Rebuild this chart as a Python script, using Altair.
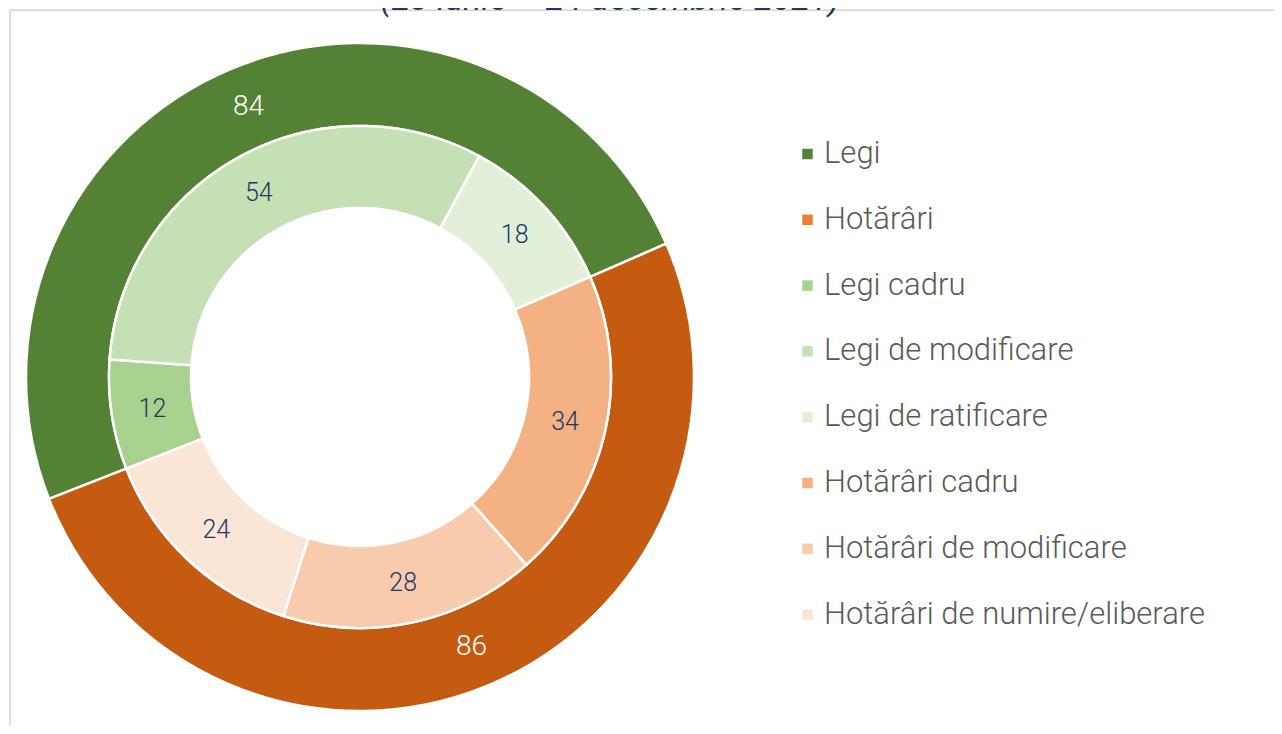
import altair as alt
import pandas as pd
import math

# ---- data ----
outer_cats = ["Legi", "Hotărâri"]
outer_vals = [84, 86]
outer_cols = ["#548235", "#C55A11"]

inner_cats = ["Legi cadru", "Legi de modificare", "Legi de ratificare",
              "Hotărâri cadru", "Hotărâri de modificare", "Hotărâri de numire/eliberare"]
inner_vals = [12, 54, 18, 34, 28, 24]

legend_cats = ["Legi", "Hotărâri", "Legi cadru", "Legi de modificare", "Legi de ratificare",
               "Hotărâri cadru", "Hotărâri de modificare", "Hotărâri de numire/eliberare"]
legend_cols = ["#548235", "#ED7D31", "#A9D18E", "#C5E0B4", "#E2F0D9",
               "#F4B183", "#F8CBAD", "#FBE5D6"]

title_text = "(28 iunie – 24 decembrie 2021)"

outer_df = pd.DataFrame({"cat": outer_cats, "val": outer_vals, "fill": outer_cols,
                         "ord": list(range(len(outer_cats)))})
inner_df = pd.DataFrame({"cat": inner_cats, "val": inner_vals,
                         "ord": list(range(len(inner_cats)))})

START = math.radians(248.6)
theta_scale = alt.Scale(domain=[0, 170], range=[START, START + 2 * math.pi])

CX, CY = 350, 367
FONT = "Roboto"

outer_arc = alt.Chart(outer_df).mark_arc(radius=334, radius2=251, stroke="white", strokeWidth=2.5).encode(
    theta=alt.Theta("val:Q", stack=True, scale=theta_scale),
    order=alt.Order("ord:Q"),
    fill=alt.Fill("fill:N", scale=None),
    x=alt.value(CX), y=alt.value(CY),
)

outer_txt = alt.Chart(outer_df).mark_text(radius=292, font=FONT, fontSize=28, fontWeight=300,
                                          color="white").encode(
    theta=alt.Theta("val:Q", stack=True, scale=theta_scale),
    order=alt.Order("ord:Q"),
    text="val:Q",
    x=alt.value(CX), y=alt.value(CY),
)

inner_arc = alt.Chart(inner_df).mark_arc(radius=251, radius2=169, stroke="white", strokeWidth=2.5).encode(
    theta=alt.Theta("val:Q", stack=True, scale=theta_scale),
    order=alt.Order("ord:Q"),
    fill=alt.Fill("cat:N",
                  scale=alt.Scale(domain=legend_cats, range=legend_cols),
                  legend=alt.Legend(title=None, orient="none", legendX=782, legendY=128.5,
                                    symbolType="square", symbolSize=110, symbolStrokeWidth=0,
                                    labelFont=FONT, labelFontSize=31, labelFontWeight=300,
                                    labelColor="#595959",
                                    labelOffset=1, rowPadding=33.8, labelLimit=600, padding=0)),
    x=alt.value(CX), y=alt.value(CY),
)

inner_txt = alt.Chart(inner_df).mark_text(radius=210, font=FONT, fontSize=25, fontWeight=300,
                                          color="#203864").encode(
    theta=alt.Theta("val:Q", stack=True, scale=theta_scale),
    order=alt.Order("ord:Q"),
    text="val:Q",
    x=alt.value(CX), y=alt.value(CY),
)

frame_df = pd.DataFrame({"k": [0]})
left_line = alt.Chart(frame_df).mark_rule(color="#D9D9D9", strokeWidth=1.5).encode(
    x=alt.value(0), y=alt.value(0), y2=alt.value(720))
top_line = alt.Chart(frame_df).mark_rule(color="#D9D9D9", strokeWidth=1.5).encode(
    x=alt.value(0), x2=alt.value(1270), y=alt.value(0))

title_df = pd.DataFrame({"t": [title_text]})
title = alt.Chart(title_df).mark_text(font=FONT, fontSize=34, fontStyle="italic", color="#1F3864",
                                      baseline="alphabetic", align="center").encode(
    text="t:N", x=alt.value(600), y=alt.value(0))

chart = alt.layer(left_line, top_line, outer_arc, inner_arc, outer_txt, inner_txt, title).properties(
    width=1264, height=716,
    padding={"left": 2, "top": 2, "right": 0, "bottom": 0},
    autosize=alt.AutoSizeParams(type="none"),
).configure_view(stroke=None).configure(background="white")

chart.save("out.html", embed_options={"renderer": "svg", "actions": False})
